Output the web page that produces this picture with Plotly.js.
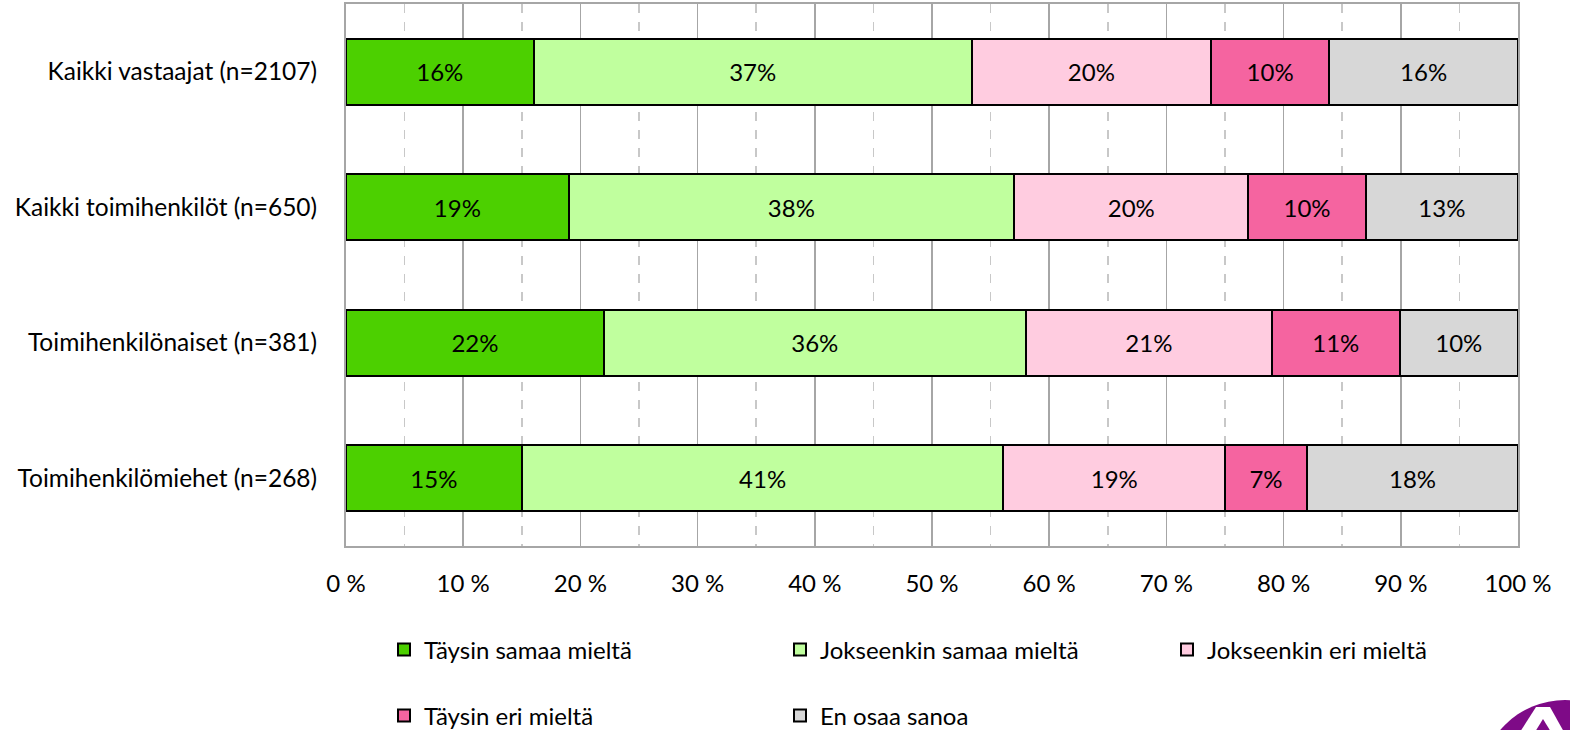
<!DOCTYPE html>
<html>
<head>
<meta charset="utf-8">
<script src="https://cdn.plot.ly/plotly-3.0.1.min.js"></script>
<style>html,body{margin:0;padding:0;background:#fff;}#chart{width:1570px;height:730px;}</style>
</head>
<body>
<div id="chart"></div>
<script>
const categories = ["Kaikki vastaajat (n=2107)", "Kaikki toimihenkilöt (n=650)", "Toimihenkilönaiset (n=381)", "Toimihenkilömiehet (n=268)"];
const seriesNames = ["Täysin samaa mieltä", "Jokseenkin samaa mieltä", "Jokseenkin eri mieltä", "Täysin eri mieltä", "En osaa sanoa"];
const taysinSamaa = [16.0, 19.0, 22.0, 15.0];
const jokseenkinSamaa = [37.4, 38.0, 36.0, 41.1];
const jokseenkinEri = [20.4, 20.0, 21.0, 18.9];
const taysinEri = [10.1, 10.0, 10.9, 7.0];
const enOsaa = [16.1, 13.0, 10.1, 18.0];
const tickVals = [0, 10, 20, 30, 40, 50, 60, 70, 80, 90, 100];

const colors = ["#4CD000", "#C0FF9E", "#FFCCE0", "#F564A0", "#D7D7D7"];
const values = [taysinSamaa, jokseenkinSamaa, jokseenkinEri, taysinEri, enOsaa];
const legendOf = ["legend", "legend", "legend3", "legend2", "legend2"];
const FONT = "Lato, 'Open Sans', sans-serif";
const FS = 24;

const traces = values.map((v, i) => ({
  type: "bar",
  orientation: "h",
  name: seriesNames[i],
  y: categories,
  x: v,
  marker: {color: colors[i], line: {color: "#000", width: 2}},
  texttemplate: "%{x:.0f}%",
  textposition: "inside",
  insidetextanchor: "middle",
  textangle: 0,
  textfont: {family: FONT, size: FS, color: "#000"},
  constraintext: "none",
  hoverinfo: "none",
  legend: legendOf[i]
}));

const W = 1172, H = 542;
const legendBase = {
  orientation: "h", xanchor: "left", yanchor: "middle",
  xref: "container", yref: "container",
  entrywidth: 351, entrywidthmode: "pixels",
  font: {family: FONT, size: FS, color: "#000"},
  bgcolor: "rgba(0,0,0,0)", traceorder: "normal"
};
const px = x => (x - 346) / W, py = y => -(y - 546) / H;
const layout = {
  width: 1570, height: 730,
  margin: {l: 346, r: 52, t: 4, b: 184, pad: 0},
  barmode: "stack",
  bargap: 0.51,
  paper_bgcolor: "#fff",
  plot_bgcolor: "#fff",
  font: {family: FONT, size: FS, color: "#000"},
  showlegend: true,
  xaxis: {
    range: [0, 100],
    tickvals: tickVals,
    ticktext: tickVals.map(t => t + " %"),
    showgrid: true, gridcolor: "#A6A6A6", gridwidth: 1.5,
    minor: {dtick: 5, tick0: 0, showgrid: true, gridcolor: "#C8C8C8", griddash: "dash", gridwidth: 1.5},
    showline: true, linecolor: "#A6A6A6", linewidth: 2, mirror: true,
    zeroline: false,
    ticks: "", ticklabelstandoff: 15,
    tickfont: {family: FONT, size: FS, color: "#000"},
    automargin: false,
    fixedrange: true
  },
  yaxis: {
    categoryorder: "array", categoryarray: categories,
    autorange: "reversed",
    showgrid: false, showline: true, linecolor: "#A6A6A6", linewidth: 2, mirror: true,
    ticks: "", ticklabelstandoff: 22,
    tickfont: {family: FONT, size: 24.5, color: "#000"},
    automargin: false,
    fixedrange: true
  },
  legend: Object.assign({}, legendBase, {x: 384 / 1570, y: 1 - 650 / 730}),
  legend3: Object.assign({}, legendBase, {x: 1167 / 1570, y: 1 - 650 / 730}),
  legend2: Object.assign({}, legendBase, {x: 384 / 1570, y: 1 - 716 / 730}),
  shapes: [
    {type: "circle", xref: "paper", yref: "paper", layer: "above",
     x0: px(1480), x1: px(1650), y0: py(870), y1: py(700),
     fillcolor: "#7E0A87", line: {width: 0}},
    {type: "path", xref: "paper", yref: "paper", layer: "above",
     path: `M${px(1536)},${py(707)} L${px(1550)},${py(707)} L${px(1564)},${py(732)} L${px(1520)},${py(732)} Z`,
     fillcolor: "#fff", line: {width: 0}},
    {type: "path", xref: "paper", yref: "paper", layer: "above",
     path: `M${px(1543)},${py(719)} L${px(1551)},${py(732)} L${px(1535)},${py(732)} Z`,
     fillcolor: "#7E0A87", line: {width: 0}}
  ]
};

Plotly.newPlot("chart", traces, layout, {displayModeBar: false, staticPlot: true});
</script>
</body>
</html>
